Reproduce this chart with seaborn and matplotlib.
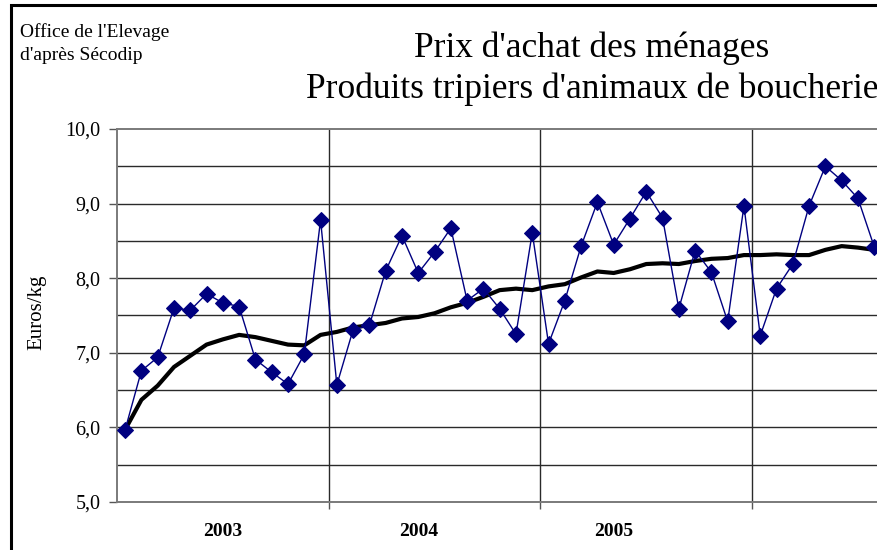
import matplotlib
matplotlib.use("Agg")
import matplotlib.pyplot as plt
import matplotlib.patches as mpatches
import seaborn as sns
import pandas as pd
import numpy as np

# ---- data (4-week periods, 13 per year) ----
prix = [5.97, 6.76, 6.94, 7.60, 7.57, 7.79, 7.67, 7.62, 6.91, 6.74, 6.58, 6.98, 8.78,
        6.57, 7.31, 7.37, 8.10, 8.57, 8.07, 8.35, 8.67, 7.70, 7.86, 7.59, 7.25, 8.61,
        7.12, 7.70, 8.43, 9.02, 8.45, 8.80, 9.16, 8.81, 7.59, 8.37, 8.08, 7.42, 8.97,
        7.23, 7.86, 8.19, 8.97, 9.50, 9.31, 9.07, 8.42]
moyenne = [5.97, 6.37, 6.56, 6.81, 6.96, 7.11, 7.18, 7.24, 7.21, 7.16, 7.11, 7.10, 7.24,
           7.28, 7.34, 7.37, 7.40, 7.46, 7.48, 7.53, 7.61, 7.67, 7.75, 7.84, 7.86, 7.84,
           7.89, 7.92, 8.01, 8.09, 8.07, 8.12, 8.19, 8.20, 8.19, 8.23, 8.26, 8.27, 8.31,
           8.31, 8.32, 8.31, 8.31, 8.38, 8.43, 8.41, 8.38]
annees = ["2003", "2004", "2005"]
annee_label_pos = [6, 18, 30]
annee_limites = [12.5, 25.5, 38.5]
y_ticks = [5.0, 6.0, 7.0, 8.0, 9.0, 10.0]
y_grid = [5.5, 6.0, 6.5, 7.0, 7.5, 8.0, 8.5, 9.0, 9.5]
periodes_total = 52

df = pd.DataFrame({"periode": np.arange(len(prix)), "prix": prix, "moyenne": moyenne})

sns.set_style("white")
plt.rcParams["font.family"] = ["Liberation Serif", "DejaVu Serif"]
plt.rcParams["text.color"] = "black"
plt.rcParams["axes.labelcolor"] = "black"
plt.rcParams["xtick.color"] = "black"
plt.rcParams["ytick.color"] = "black"

W, H = 877, 550
fig = plt.figure(figsize=(W / 100, H / 100), dpi=100)
fig.patch.set_facecolor("white")

ax_left, ax_top, ax_bottom = 117, 129, 502
unit_px = 211.7 / 13
ax_w = periodes_total * unit_px
ax = fig.add_axes([ax_left / W, (H - ax_bottom) / H, ax_w / W, (ax_bottom - ax_top) / H])

# gridlines
for v in y_grid:
    ax.axhline(v, color="#2a2a2a", lw=1.0, zorder=1)
for v in annee_limites:
    ax.axvline(v, color="#2a2a2a", lw=1.0, zorder=1)

sns.lineplot(data=df, x="periode", y="moyenne", ax=ax, color="black", lw=3.0,
             zorder=3, legend=False)
sns.lineplot(data=df, x="periode", y="prix", ax=ax, color="#000080", lw=1.0,
             marker="D", markersize=8, markeredgecolor="#000080",
             markerfacecolor="#000080", zorder=4, legend=False, clip_on=False)

ax.set_xlim(-0.5, periodes_total - 0.5)
ax.set_ylim(5.0, 10.0)

ax.set_yticks(y_ticks)
ax.set_yticklabels([f"{v:.1f}".replace(".", ",") for v in y_ticks], fontsize=14.5)
ax.tick_params(axis="y", which="major", direction="out", length=6, width=1,
               color="#555555", labelcolor="black", pad=6, left=True)

ax.set_xticks(annee_limites)
ax.set_xticklabels([])
ax.tick_params(axis="x", which="major", direction="out", length=5, width=1,
               color="#555555", bottom=True)
ax.set_xticks(annee_label_pos, minor=True)
ax.set_xticklabels(annees, minor=True, fontsize=14, fontweight="bold")
ax.tick_params(axis="x", which="minor", length=0, pad=15, labelcolor="black")

ax.set_xlabel("")
ax.set_ylabel("Euros/kg", fontsize=15, labelpad=12)
ax.yaxis.set_label_coords(-(117 - 46) / ax_w, (502 - 312) / (502 - 129))

for s in ["left", "bottom", "top", "right"]:
    ax.spines[s].set_color("#7a7a7a")
    ax.spines[s].set_linewidth(1.4)

# titles
fig.text(592 / W, 1 - 48 / H, "Prix d'achat des ménages", ha="center", va="center",
         fontsize=25.5)
fig.text(592 / W, 1 - 89 / H, "Produits tripiers d'animaux de boucherie",
         ha="center", va="center", fontsize=25.5)
fig.text(20 / W, 1 - 32 / H, "Office de l'Elevage", ha="left", va="center", fontsize=14)
fig.text(20 / W, 1 - 55 / H, "d'après Sécodip", ha="left", va="center", fontsize=14)

# outer frame (cut on right and bottom)
frame = mpatches.Rectangle((11 / W, -0.1), 1.2, (H - 5) / H + 0.1, fill=False,
                           lw=2.2, edgecolor="black", transform=fig.transFigure)
fig.patches.append(frame)

fig.savefig("out.png", dpi=100)
